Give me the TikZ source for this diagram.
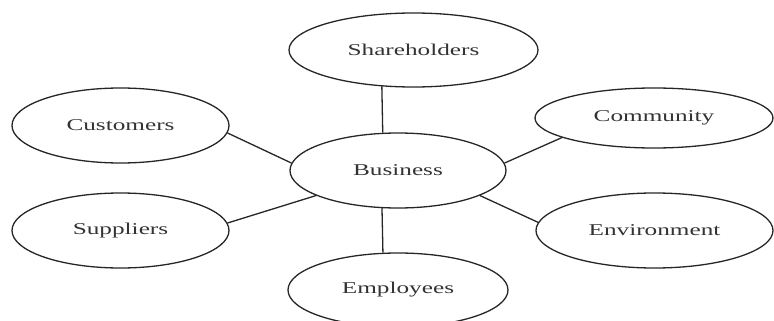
\documentclass[tikz,border=0pt]{standalone}
\usepackage{fontspec}
\setmainfont{Liberation Serif}[FakeStretch=1.53]
\usetikzlibrary{shapes.geometric}
\begin{document}
\begin{tikzpicture}[x=1pt,y=-1pt,
  party/.style={ellipse, draw=black!85, line width=1.3pt, inner sep=0pt,
    text=black!80, font=\fontsize{16.5}{18}\selectfont},
  link/.style={draw=black!85, line width=1.3pt}]
\useasboundingbox (0,0) rectangle (774,321);

% stakeholder ellipses around the central business
\node[party, minimum width=216pt, minimum height=75pt] (bus) at (398,170.5) {Business};
\node[party, minimum width=249pt, minimum height=74pt] (sh)  at (413.5,50) {Shareholders};
\node[party, minimum width=217pt, minimum height=75pt] (cu)  at (120.5,125.5) {Customers};
\node[party, minimum width=217pt, minimum height=75pt] (su)  at (120.5,230.5) {Suppliers};
\node[party, minimum width=238pt, minimum height=60pt] (co)  at (654,118) {Community};
\node[party, minimum width=237pt, minimum height=75pt] (en)  at (654.5,230.5) {Environment};
\node[party, minimum width=220pt, minimum height=74pt] (em)  at (398,290) {Employees};

% connectors
\draw[link] (sh.229.6) -- (bus.112.3);
\draw[link] (bus.247.7) -- (em.112.25);
\draw[link] (cu.356.5) -- (bus.176);
\draw[link] (su.4) -- (bus.197);
\draw[link] (bus.4) -- (co.192);
\draw[link] (bus.343) -- (en.176.3);
\end{tikzpicture}
\end{document}
